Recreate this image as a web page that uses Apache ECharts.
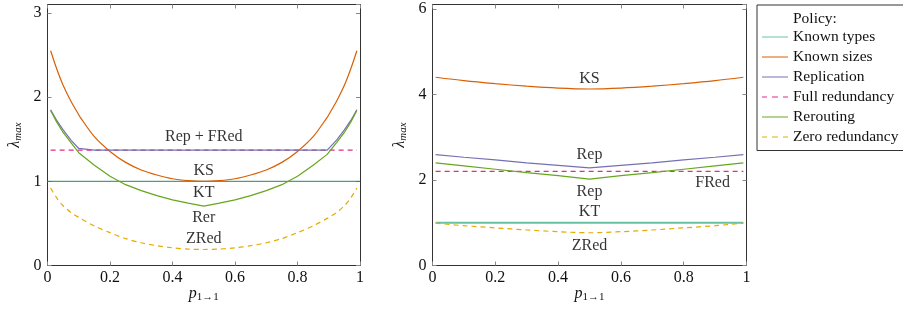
<!DOCTYPE html>
<html>
<head>
<meta charset="utf-8">
<script src="https://cdn.jsdelivr.net/npm/echarts@6/dist/echarts.min.js"></script>
<style>html,body{margin:0;padding:0;background:#fff}#c{width:903px;height:309px}</style>
</head>
<body>
<div id="c"></div>
<script>
// ---- Left panel data ----
var xLeft = [0.01,0.03,0.05,0.075,0.1,0.105,0.15,0.2,0.25,0.3,0.35,0.4,0.45,0.5,0.55,0.6,0.65,0.7,0.75,0.8,0.85,0.895,0.9,0.925,0.95,0.97,0.99];
var ksLeft   = [2.55,2.33,2.14,1.95,1.79,1.76,1.53,1.355,1.225,1.135,1.075,1.03,1.008,1.0,1.008,1.03,1.075,1.135,1.225,1.355,1.53,1.76,1.79,1.95,2.14,2.33,2.55];
var repLeft  = [1.85,1.72,1.61,1.49,1.39,1.37,1.37,1.37,1.37,1.37,1.37,1.37,1.37,1.37,1.37,1.37,1.37,1.37,1.37,1.37,1.37,1.37,1.39,1.49,1.61,1.72,1.85];
var rerLeft  = [1.84,1.70,1.58,1.46,1.34,1.32,1.19,1.06,0.96,0.89,0.83,0.78,0.74,0.705,0.74,0.78,0.83,0.89,0.96,1.06,1.19,1.32,1.34,1.46,1.58,1.70,1.84];
var zredLeft = [0.92,0.80,0.71,0.63,0.57,0.56,0.47,0.39,0.32,0.27,0.235,0.21,0.195,0.19,0.195,0.21,0.235,0.27,0.32,0.39,0.47,0.56,0.57,0.63,0.71,0.80,0.92];
var fredLeftX = [0.01,0.99];
var fredLeft  = [1.37,1.37];
var ktLeftX = [0,1];
var ktLeft  = [1.0,1.0];

// ---- Right panel data ----
var xRight = [0.01,0.1,0.2,0.3,0.4,0.5,0.6,0.7,0.8,0.9,0.99];
var ksRight   = [4.40,4.32,4.25,4.19,4.145,4.125,4.145,4.19,4.25,4.32,4.40];
var repRight  = [2.59,2.53,2.47,2.40,2.34,2.28,2.34,2.40,2.47,2.53,2.59];
var rerRight  = [2.40,2.33,2.25,2.17,2.10,2.02,2.10,2.17,2.25,2.33,2.40];
var fredRight = [2.2,2.2,2.2,2.2,2.2,2.2,2.2,2.2,2.2,2.2,2.2];
var ktRight   = [1.0,1.0,1.0,1.0,1.0,1.0,1.0,1.0,1.0,1.0,1.0];
var zredRight = [0.99,0.93,0.88,0.83,0.79,0.765,0.79,0.83,0.88,0.93,0.99];

// ---- Labels ----
var legendNames = ['Known types','Known sizes','Replication','Full redundancy','Rerouting','Zero redundancy'];
var xTickLabels = ['0','0.2','0.4','0.6','0.8','1'];
var leftNotes = [['Rep + FRed',0.5,1.53],['KS',0.5,1.12],['KT',0.5,0.868],['Rer',0.5,0.563],['ZRed',0.5,0.316]];
var rightNotes = [['KS',0.5,4.375],['Rep',0.5,2.59],['Rep',0.5,1.73],['KT',0.5,1.25],['ZRed',0.5,0.47],['FRed',0.892,1.93]];

var FONT = 'Liberation Serif';
var colors = {kt:'#66c2a5', ktDark:'#1f8a5e', ks:'#d95f02', rep:'#7570b3', fred:'#e7298a', rer:'#66a61e', zred:'#e6ab02'};
var SOLID_ICON = 'path://M0,0h26v1h-26z';
var DASH_ICON = 'path://M0,0h5v1h-5zM10,0h6v1h-6zM21,0h5v1h-5z';

function zip(xs, ys){ return xs.map(function(x,i){return [x, ys[i]];}); }

function line(name, xi, yi, xs, ys, color, dashed, width, smooth){
  return {type:'line', name:name, xAxisIndex:xi, yAxisIndex:yi, data:zip(xs,ys), symbol:'none',
    smooth: smooth ? 0.3 : false, lineStyle:{color:color, width:width||1, type: dashed ? [5,4] : 'solid'},
    itemStyle:{color:color}, silent:true, animation:false};
}
function notes(xi, yi, arr){
  return {type:'scatter', xAxisIndex:xi, yAxisIndex:yi, symbolSize:0, silent:true, animation:false,
    data: arr.map(function(n){return {name:n[0], value:[n[1],n[2]]};}),
    label:{show:true, position:'inside', formatter:function(p){return p.name;}, fontFamily:FONT, fontSize:16, color:'#000'}};
}

var axisLineStyle = {show:true, onZero:false, lineStyle:{color:'#333', width:1}};
var tickStyle = {show:true, inside:true, length:4, lineStyle:{color:'#888'}};
var labelStyle = {fontFamily:FONT, fontSize:16, color:'#111'};

function xAxes(gi){
  return [
    {type:'value', gridIndex:gi, min:0, max:1, interval:0.2, position:'bottom',
      axisLine:axisLineStyle, axisTick:tickStyle, splitLine:{show:false},
      axisLabel:Object.assign({margin:4, formatter:function(v){var i=Math.round(v/0.2);return xTickLabels[i];}}, labelStyle),
      name:'{p|p}{s|1→1}', nameLocation:'middle', nameGap:20, nameMoveOverlap:false,
      nameTextStyle:{rich:{p:{fontFamily:FONT, fontStyle:'italic', fontSize:16, color:'#111'}, s:{fontFamily:FONT, fontSize:11, color:'#111', padding:[6,0,0,0]}}}},
    {type:'value', gridIndex:gi, min:0, max:1, interval:0.2, position:'top',
      axisLine:axisLineStyle, axisTick:tickStyle, splitLine:{show:false}, axisLabel:{show:false}}
  ];
}
function yAxes(gi, max, interval){
  return [
    {type:'value', gridIndex:gi, min:0, max:max, interval:interval, position:'left',
      axisLine:axisLineStyle, axisTick:tickStyle, splitLine:{show:false},
      axisLabel:Object.assign({margin:6, showMaxLabel:false}, labelStyle),
      name:'{l|λ}{s|max}', nameLocation:'middle', nameGap:24, nameRotate:90, nameMoveOverlap:false,
      nameTextStyle:{rich:{l:{fontFamily:FONT, fontStyle:'italic', fontSize:16, color:'#111'}, s:{fontFamily:FONT, fontStyle:'italic', fontSize:11, color:'#111', padding:[6,0,0,0]}}}},
    {type:'value', gridIndex:gi, min:0, max:max, interval:interval, position:'right',
      axisLine:axisLineStyle, axisTick:tickStyle, splitLine:{show:false}, axisLabel:{show:false}}
  ];
}

function legendItem(i, color, dashed){
  return {name:legendNames[i], icon: dashed ? DASH_ICON : SOLID_ICON, itemStyle:{color:color, borderWidth:0}};
}

var option = {
  backgroundColor:'#fff',
  animation:false,
  grid:[
    {left:47.5, top:4.5, width:312.5, height:261, outerBoundsMode:'none', containLabel:false},
    {left:432.5, top:4.5, width:314, height:261, outerBoundsMode:'none', containLabel:false}
  ],
  xAxis: xAxes(0).concat(xAxes(1)),
  yAxis: yAxes(0, 3.1, 1).concat(yAxes(1, 6.1, 2)),
  legend:{
    orient:'vertical', left:762, top:27, padding:0, itemWidth:26, itemHeight:1.5, itemGap:0,
    textStyle:{fontFamily:FONT, fontSize:15.5, color:'#111', lineHeight:20},
    selectedMode:false,
    data:[
      legendItem(0, colors.kt, false),
      legendItem(1, colors.ks, false),
      legendItem(2, colors.rep, false),
      legendItem(3, colors.fred, true),
      legendItem(4, colors.rer, false),
      legendItem(5, colors.zred, true)
    ]
  },
  graphic:[
    {type:'rect', left:756.5, top:4.5, shape:{width:160, height:145.5}, style:{fill:'#fff', stroke:'#333', lineWidth:1}, z:-1},
    {type:'text', left:793, top:11, style:{text:'Policy:', font:'15.5px "Liberation Serif"', fill:'#111'}}
  ],
  series:[
    line(legendNames[3], 0, 0, fredLeftX, fredLeft, colors.fred, true, 1.2),
    line(legendNames[0], 0, 0, ktLeftX, ktLeft, colors.ktDark, false, 1),
    line(legendNames[1], 0, 0, xLeft, ksLeft, colors.ks, false, 1.2, true),
    line(legendNames[2], 0, 0, xLeft, repLeft, colors.rep, false, 1.2),
    line(legendNames[4], 0, 0, xLeft, rerLeft, colors.rer, false, 1.2),
    line(legendNames[5], 0, 0, xLeft, zredLeft, colors.zred, true, 1.2, true),
    notes(0, 0, leftNotes),
    line(legendNames[0], 2, 2, xRight, ktRight, colors.kt, false, 2),
    line(legendNames[1], 2, 2, xRight, ksRight, colors.ks, false, 1.2, true),
    line(legendNames[2], 2, 2, xRight, repRight, colors.rep, false, 1.2),
    line(legendNames[3], 2, 2, xRight, fredRight, colors.fred, true, 1.2),
    line(legendNames[4], 2, 2, xRight, rerRight, colors.rer, false, 1.2),
    line(legendNames[5], 2, 2, xRight, zredRight, colors.zred, true, 1.2, true),
    notes(2, 2, rightNotes)
  ]
};
var chart = echarts.init(document.getElementById('c'), null, {renderer:'canvas'});
chart.setOption(option);
</script>
</body>
</html>
